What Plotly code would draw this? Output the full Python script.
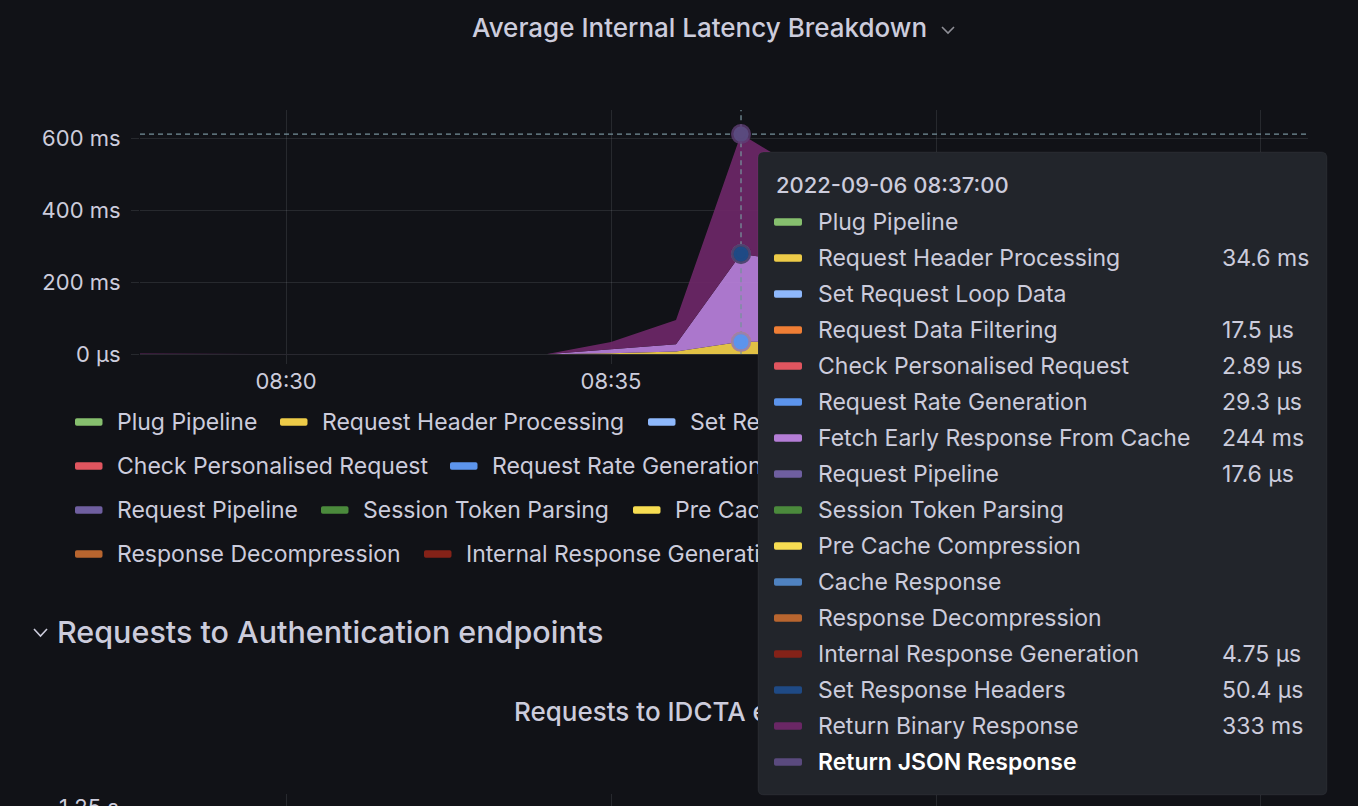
import plotly.graph_objects as go

W, H = 1358, 806
BG = "#111217"
TXT = "#ccccdc"
GRID = "rgba(240,250,255,0.10)"
FONT = "Inter"

# ---------------- data ----------------
times = [
    "2022-09-06 08:27:00", "2022-09-06 08:28:00", "2022-09-06 08:29:00",
    "2022-09-06 08:30:00", "2022-09-06 08:31:00", "2022-09-06 08:32:00",
    "2022-09-06 08:33:00", "2022-09-06 08:34:00", "2022-09-06 08:35:00",
    "2022-09-06 08:36:00", "2022-09-06 08:37:00", "2022-09-06 08:38:00",
]
hover_time = "2022-09-06 08:37:00"
highlight_series = "Return JSON Response"

series_names = [
    "Plug Pipeline", "Request Header Processing", "Set Request Loop Data",
    "Request Data Filtering", "Check Personalised Request", "Request Rate Generation",
    "Fetch Early Response From Cache", "Request Pipeline", "Session Token Parsing",
    "Pre Cache Compression", "Cache Response", "Response Decompression",
    "Internal Response Generation", "Set Response Headers", "Return Binary Response",
    "Return JSON Response",
]
series_colors = [
    "#86BF6E", "#EDCB48", "#8EB8FC", "#EF7E35", "#E0555F", "#5C94EC",
    "#B47DD6", "#6F5FA0", "#4B8A3C", "#F7DD52", "#4F82C0", "#B8652F",
    "#842218", "#1F4A85", "#6A2765", "#5A4A7E",
]

# values in milliseconds
plug_pipeline =                [None, None, None, None, None, None, None, None, None, None, None, None]
request_header_processing =    [None, None, None, None, None, None, None, 0, 3, 8, 34.6, 35]
set_request_loop_data =        [None, None, None, None, None, None, None, None, None, None, None, None]
request_data_filtering =       [None, None, None, None, None, None, None, 0, 0.012, 0.015, 0.0175, 0.016]
check_personalised_request =   [None, None, None, None, None, None, None, 0, 0.0021, 0.0025, 0.00289, 0.0027]
request_rate_generation =      [None, None, None, None, None, None, None, 0, 0.021, 0.026, 0.0293, 0.028]
fetch_early_response =         [None, None, None, None, None, None, None, 0, 11, 20, 244, 218]
request_pipeline =             [None, None, None, None, None, None, None, 0, 0.013, 0.015, 0.0176, 0.016]
session_token_parsing =        [None, None, None, None, None, None, None, None, None, None, None, None]
pre_cache_compression =        [None, None, None, None, None, None, None, None, None, None, None, None]
cache_response =               [None, None, None, None, None, None, None, None, None, None, None, None]
response_decompression =       [None, None, None, None, None, None, None, None, None, None, None, None]
internal_response_generation = [None, None, None, None, None, None, None, 0, 0.0039, 0.0043, 0.00475, 0.0045]
set_response_headers =         [None, None, None, None, None, None, None, 0, 0.041, 0.046, 0.0504, 0.048]
return_binary_response =       [3, 2, 0, None, None, None, None, 0, 20, 67, 333, 250]
return_json_response =         [None, None, None, None, None, None, None, None, None, None, None, None]

series_values = [
    plug_pipeline, request_header_processing, set_request_loop_data,
    request_data_filtering, check_personalised_request, request_rate_generation,
    fetch_early_response, request_pipeline, session_token_parsing,
    pre_cache_compression, cache_response, response_decompression,
    internal_response_generation, set_response_headers, return_binary_response,
    return_json_response,
]

y_tick_vals = [0, 200, 400, 600]
y_tick_text = ["0 μs", "200 ms", "400 ms", "600 ms"]

title_text = "Average Internal Latency Breakdown"
tooltip_title = "2022-09-06 08:37:00"
section_text = "Requests to Authentication endpoints"
panel2_title = "Requests to IDCTA endpoints"
panel2_tick = "1.25 s"

# ---------------- layout helpers (pixel geometry) ----------------
def PX(x):
    return x / W

def PY(y):
    return 1 - y / H

def rgba(hexc, a):
    h = hexc.lstrip("#")
    return "rgba(%d,%d,%d,%.3f)" % (int(h[0:2], 16), int(h[2:4], 16), int(h[4:6], 16), a)

def fmt(v):
    if v is None:
        return ""
    if v >= 1:
        return f"{v:.3g} ms"
    return f"{v * 1000:.3g} μs"

def rrect_path(x0, y0, x1, y1, r):
    pts = [
        ("M", [(x0 + r, y0)]), ("L", [(x1 - r, y0)]), ("Q", [(x1, y0), (x1, y0 + r)]),
        ("L", [(x1, y1 - r)]), ("Q", [(x1, y1), (x1 - r, y1)]), ("L", [(x0 + r, y1)]),
        ("Q", [(x0, y1), (x0, y1 - r)]), ("L", [(x0, y0 + r)]), ("Q", [(x0, y0), (x0 + r, y0)]),
    ]
    s = ""
    for cmd, ps in pts:
        s += cmd + " " + " ".join(f"{PX(a):.6f},{PY(b):.6f}" for a, b in ps) + " "
    return s + "Z"

def poly_path(points):
    return "M " + " L ".join(f"{PX(a):.6f},{PY(b):.6f}" for a, b in points)

X_RANGE = ["2022-09-06 08:27:45.2", "2022-09-06 08:45:43.4"]
Y_TOP = 678.6

fig = go.Figure()

# stacked areas
for name, col, vals in zip(series_names, series_colors, series_values):
    fig.add_trace(go.Scatter(
        x=times, y=vals, name=name, stackgroup="lat", mode="lines",
        line=dict(width=0, color=col), fillcolor=rgba(col, 0.95),
        hoverinfo="skip", showlegend=False,
    ))

# cumulative values at hover time
hi = times.index(hover_time)
cum = 0.0
hover_pts = []
for name, col, vals in zip(series_names, series_colors, series_values):
    v = vals[hi]
    if v is not None:
        cum += v
    if v is not None or name == highlight_series:
        hover_pts.append((cum, col))
total_at_hover = cum

# crosshair
cross = dict(color="#76909a", width=1.3, dash="5px,4px")
fig.add_trace(go.Scatter(x=[hover_time, hover_time], y=[0, Y_TOP], mode="lines",
                         line=cross, hoverinfo="skip", showlegend=False))
fig.add_trace(go.Scatter(x=X_RANGE, y=[total_at_hover, total_at_hover], mode="lines",
                         line=cross, hoverinfo="skip", showlegend=False))

# hover points
for yv, col in hover_pts:
    fig.add_trace(go.Scatter(
        x=[hover_time], y=[yv], mode="markers",
        marker=dict(size=15, color=col, line=dict(width=5, color=rgba(col, 0.55))),
        hoverinfo="skip", showlegend=False, cliponaxis=False,
    ))

# second panel (only gridlines visible)
fig.add_trace(go.Scatter(x=[], y=[], xaxis="x2", yaxis="y2", showlegend=False))

# ---------- text partly hidden by the tooltip: text traces on a pixel overlay ----------
legend_rows = [
    ([0, 1, 2, 3], [75, 280, 648, 960], 422),
    ([4, 5, 6], [75, 450, 785], 466),
    ([7, 8, 9, 10], [75, 321, 633, 960], 510),
    ([11, 12, 13, 14, 15], [75, 424, 810, 1122, 1447], 554),
]
lx, ly, lt = [], [], []
shapes = []
for idxs, xs, yrow in legend_rows:
    for i, x0 in zip(idxs, xs):
        lx.append(x0 + 42)
        ly.append(yrow + 2)
        lt.append(series_names[i])
        shapes.append(dict(type="path", xref="paper", yref="paper", layer="above",
                           path=rrect_path(x0, yrow - 3.7, x0 + 27.5, yrow + 3.7, 1.8),
                           fillcolor=series_colors[i], line=dict(width=0)))

fig.add_trace(go.Scatter(
    x=lx, y=ly, text=lt, mode="text", textposition="middle right",
    textfont=dict(family=FONT, size=23, color=TXT),
    xaxis="x3", yaxis="y3", hoverinfo="skip", showlegend=False, cliponaxis=True,
))
fig.add_trace(go.Scatter(
    x=[514], y=[714], text=[panel2_title], mode="text", textposition="middle right",
    textfont=dict(family=FONT, size=26, color=TXT, weight=500),
    xaxis="x3", yaxis="y3", hoverinfo="skip", showlegend=False, cliponaxis=True,
))

# ---------- tooltip ----------
TX0, TY0, TX1, TY1 = 758, 152, 1327, 795
shapes.append(dict(type="path", xref="paper", yref="paper", layer="above",
                   path=rrect_path(TX0, TY0, TX1, TY1, 6),
                   fillcolor="#22252b", line=dict(width=1, color="rgba(204,204,220,0.06)")))

annotations = []
annotations.append(dict(xref="paper", yref="paper", x=PX(774), y=PY(185), xanchor="left",
                        yanchor="middle", text=tooltip_title, showarrow=False,
                        font=dict(family=FONT, size=22, color=TXT, weight=500)))
for i, (name, col, vals) in enumerate(zip(series_names, series_colors, series_values)):
    yrow = 222 + 36 * i
    shapes.append(dict(type="path", xref="paper", yref="paper", layer="above",
                       path=rrect_path(774, yrow - 3.7, 802, yrow + 3.7, 1.8),
                       fillcolor=col, line=dict(width=0)))
    hl = name == highlight_series
    annotations.append(dict(xref="paper", yref="paper", x=PX(816), y=PY(yrow), xanchor="left",
                            yanchor="middle", text=name, showarrow=False,
                            font=dict(family=FONT, size=23, color="#ffffff" if hl else TXT,
                                      weight=600 if hl else 400)))
    s = fmt(vals[hi])
    if s:
        annotations.append(dict(xref="paper", yref="paper", x=PX(1220), y=PY(yrow), xanchor="left",
                                yanchor="middle", text=s, showarrow=False,
                                font=dict(family=FONT, size=23, color=TXT)))

# ---------- titles ----------
annotations.append(dict(xref="paper", yref="paper", x=PX(470), y=PY(28), xanchor="left",
                        yanchor="middle", text=title_text, showarrow=False,
                        font=dict(family=FONT, size=26, color=TXT, weight=500)))
shapes.append(dict(type="path", xref="paper", yref="paper", layer="above",
                   path=poly_path([(942, 27), (948, 33), (954, 27)]),
                   line=dict(color="#8e8e96", width=1.6)))
annotations.append(dict(xref="paper", yref="paper", x=PX(55), y=PY(631.5), xanchor="left",
                        yanchor="middle", text=section_text, showarrow=False,
                        font=dict(family=FONT, size=30.5, color=TXT, weight=500)))
shapes.append(dict(type="path", xref="paper", yref="paper", layer="above",
                   path=poly_path([(34, 629), (40.5, 636), (47, 629)]),
                   line=dict(color=TXT, width=1.6)))
annotations.append(dict(xref="paper", yref="paper", x=PX(121), y=PY(807), xanchor="right",
                        yanchor="middle", text=panel2_tick, showarrow=False,
                        font=dict(family=FONT, size=22, color=TXT)))

fig.update_layout(
    width=W, height=H,
    margin=dict(l=0, r=0, t=0, b=0, pad=0, autoexpand=False),
    paper_bgcolor=BG, plot_bgcolor="rgba(0,0,0,0)",
    showlegend=False,
    hovermode=False,
    font=dict(family=FONT, color=TXT),
    xaxis=dict(
        domain=[PX(140), PX(1308)], anchor="y", type="date", range=X_RANGE,
        tick0="2022-09-06 08:30:00", dtick=300000, tickformat="%H:%M",
        showgrid=True, gridcolor=GRID, gridwidth=1, zeroline=False, showline=False,
        ticks="outside", ticklen=9, tickcolor=GRID, tickwidth=1, ticklabelstandoff=-2,
        tickfont=dict(family=FONT, size=22, color=TXT), fixedrange=True, automargin=False,
    ),
    yaxis=dict(
        domain=[PY(354.3), PY(110)], anchor="x", range=[0, Y_TOP],
        tickvals=y_tick_vals, ticktext=y_tick_text,
        showgrid=True, gridcolor=GRID, gridwidth=1, zeroline=True, zerolinecolor=GRID,
        zerolinewidth=1, showline=False,
        ticks="outside", ticklen=8, tickcolor=GRID, tickwidth=1, ticklabelstandoff=6,
        tickfont=dict(family=FONT, size=22, color=TXT), fixedrange=True, automargin=False,
    ),
    xaxis2=dict(
        domain=[PX(140), PX(1308)], anchor="y2", type="date", range=X_RANGE,
        tick0="2022-09-06 08:30:00", dtick=300000, showgrid=True, gridcolor=GRID,
        showticklabels=False, ticks="", zeroline=False, showline=False, fixedrange=True,
        automargin=False,
    ),
    yaxis2=dict(domain=[0, PY(794)], anchor="x2", range=[0, 1], visible=False,
                showgrid=False, zeroline=False, fixedrange=True, automargin=False),
    xaxis3=dict(domain=[0, PX(1327)], anchor="y3", range=[0, 1327], visible=False,
                fixedrange=True, automargin=False),
    yaxis3=dict(domain=[0, 1], anchor="x3", range=[H, 0], visible=False, fixedrange=True,
                automargin=False),
    shapes=shapes,
    annotations=annotations,
)

fig.write_html(
    "out.html",
    config={"displayModeBar": False, "staticPlot": True},
    post_script="document.documentElement.style.margin='0';document.body.style.margin='0';"
                "document.body.style.background='#111217';",
)
